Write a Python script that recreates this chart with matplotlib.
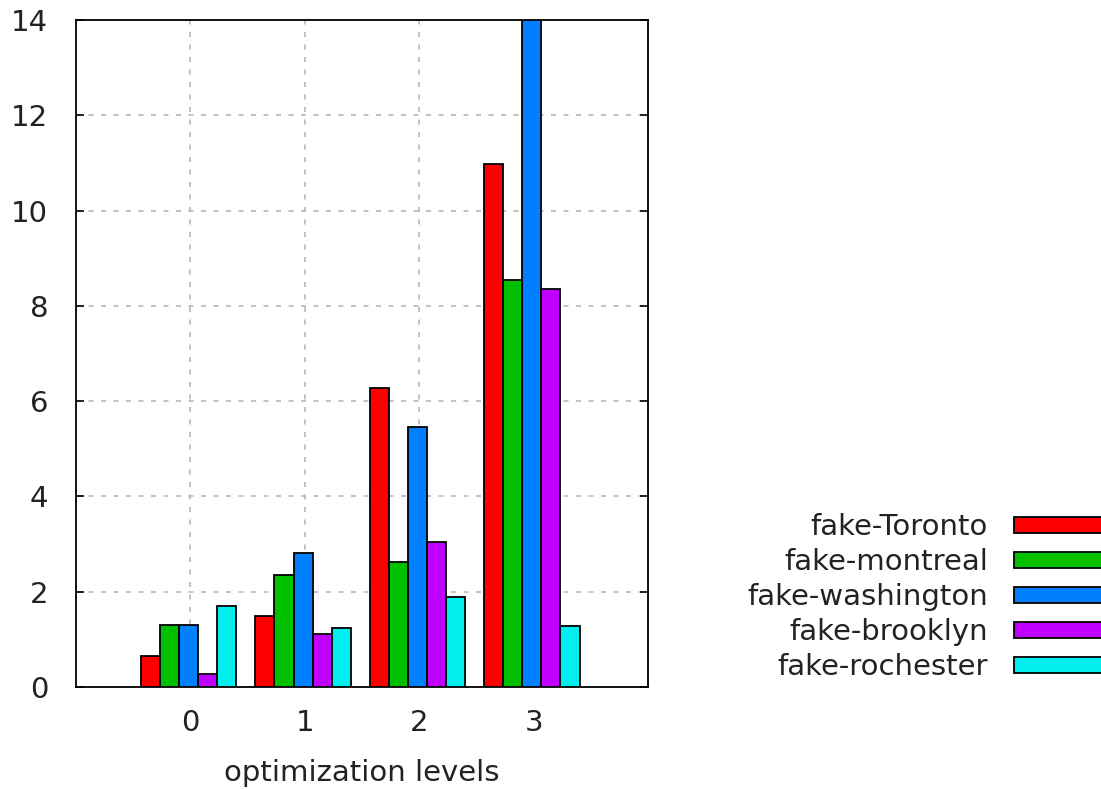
import matplotlib
matplotlib.use("Agg")
import matplotlib.pyplot as plt
import numpy as np

# --- data ---
levels = [0, 1, 2, 3]
series = ["fake-Toronto", "fake-montreal", "fake-washington", "fake-brooklyn", "fake-rochester"]
toronto = [0.65, 1.50, 6.27, 10.98]
montreal = [1.30, 2.35, 2.62, 8.54]
washington = [1.30, 2.81, 5.45, 14.0]
brooklyn = [0.27, 1.11, 3.05, 8.35]
rochester = [1.70, 1.24, 1.89, 1.28]
values = [toronto, montreal, washington, brooklyn, rochester]
colors = ["#ff0000", "#00c000", "#0080ff", "#c000ff", "#00eeee"]

fontsize = 21
bar_w = 1 / 6

plt.rcParams["font.family"] = "DejaVu Sans"
fig = plt.figure(figsize=(11.01, 7.89), dpi=100)
ax = fig.add_axes([76 / 1101, 1 - 687 / 789, (648 - 76) / 1101, (687 - 20) / 789])

x = np.array(levels, dtype=float)
for i, (name, vals, c) in enumerate(zip(series, values, colors)):
    ax.bar(x + (i - 2) * bar_w - 0.015, vals, width=bar_w, color=c, edgecolor="black",
           linewidth=1.3, label=name, zorder=3)

ax.set_xlim(-1, 4)
ax.set_ylim(0, 14)
ax.set_xticks(levels)
ax.set_yticks(range(0, 15, 2))
ax.grid(True, color="#b8b8b8", linestyle=(0, (3, 4.5)), linewidth=1.2, zorder=0)
ax.tick_params(axis="y", direction="in", length=6, width=1.2, pad=20,
               labelsize=fontsize, right=True, colors="black", labelcolor="#222222")
ax.tick_params(axis="x", length=0, pad=16, labelsize=fontsize, labelcolor="#222222")
for s in ax.spines.values():
    s.set_linewidth(1.3)
ax.set_xlabel("optimization levels", fontsize=fontsize, labelpad=16, color="#222222")

leg = ax.legend(loc="center right", bbox_to_anchor=(1131 / 1101, 1 - 597 / 789),
                bbox_transform=fig.transFigure, frameon=False, markerfirst=False,
                fontsize=fontsize, handlelength=4, handleheight=0.48,
                handletextpad=0.9, labelspacing=0.24, borderpad=0, borderaxespad=0)
for t in leg.get_texts():
    t.set_color("#222222")

fig.savefig("out.png", dpi=100)
